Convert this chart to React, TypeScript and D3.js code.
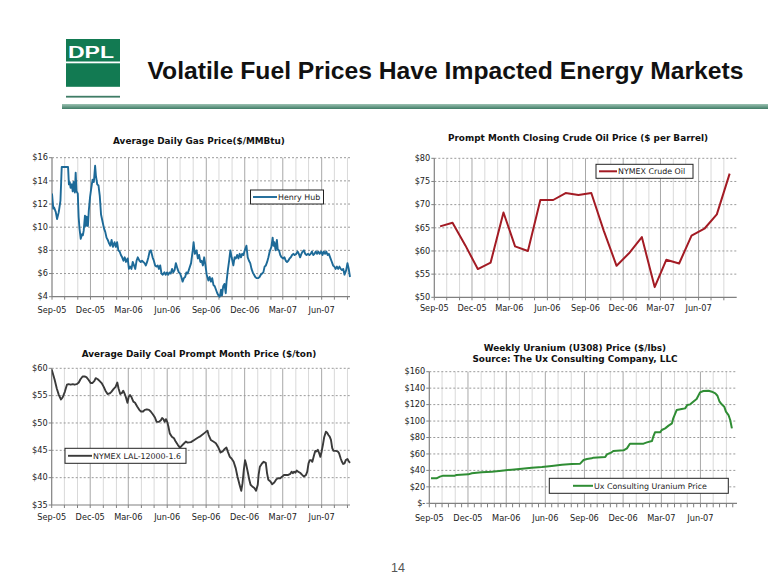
import React from 'react';
import * as d3 from 'd3';

const START = new Date(2005, 8, 1);

// Henry Hub daily gas price: [days since Sep 1 2005, $/MMBtu]
const GAS: [number, number][] = [[0,12.9],[3,11.6],[5,11.7],[9,11.3],[12,10.7],[16,11.3],[20,12.3],[23,15.2],[38,15.2],[40,13.7],[42,13.9],[44,13.4],[47,13.7],[49,13.1],[51,13.9],[54,13.0],[56,14.7],[58,13.1],[61,12.9],[63,10.9],[65,9.9],[68,9.0],[71,9.4],[73,9.3],[75,9.7],[78,11.0],[80,10.1],[82,10.9],[85,10.1],[87,11.4],[90,12.6],[93,13.4],[96,14.1],[99,13.9],[102,15.3],[104,14.4],[107,13.7],[110,13.6],[113,12.7],[116,11.1],[120,10.4],[123,9.9],[126,9.6],[129,9.1],[132,8.9],[135,8.6],[138,8.4],[141,8.9],[144,8.3],[148,8.7],[151,8.3],[154,8.7],[157,8.0],[160,7.9],[163,7.6],[166,7.4],[169,7.1],[172,7.4],[175,7.0],[179,7.3],[182,6.4],[185,6.6],[188,6.4],[191,7.0],[194,6.7],[197,6.4],[200,7.1],[203,7.4],[207,7.1],[210,7.0],[213,7.1],[216,7.0],[219,6.9],[222,6.7],[225,7.0],[228,7.4],[231,7.9],[234,8.0],[238,7.4],[241,7.1],[244,6.7],[247,6.6],[250,6.7],[253,6.4],[256,6.7],[259,6.0],[262,5.9],[266,6.1],[269,5.9],[272,6.1],[275,5.9],[278,6.1],[281,6.0],[284,6.4],[287,6.1],[290,6.3],[293,6.9],[297,6.4],[300,6.1],[303,6.0],[306,5.7],[309,5.3],[312,5.6],[315,5.7],[318,6.1],[321,6.0],[329,6.9],[333,8.0],[335,8.7],[338,7.7],[342,8.0],[345,7.3],[348,7.6],[351,7.0],[354,7.1],[357,6.7],[360,7.4],[363,6.7],[366,5.9],[370,5.4],[373,5.7],[376,5.3],[379,5.6],[382,5.0],[385,4.9],[388,4.6],[391,4.3],[394,4.1],[397,4.0],[400,4.6],[402,4.1],[405,4.9],[408,5.1],[411,4.3],[413,5.3],[416,6.3],[419,7.1],[422,8.0],[425,7.4],[429,6.7],[432,7.4],[435,7.3],[438,7.6],[441,7.3],[444,7.7],[447,7.4],[450,7.7],[453,7.6],[456,8.0],[460,8.4],[463,7.4],[466,7.1],[469,6.9],[472,6.4],[475,6.1],[478,5.9],[481,5.7],[484,5.6],[488,5.6],[491,5.7],[494,5.9],[497,6.0],[500,6.1],[503,6.6],[506,6.7],[509,7.0],[512,7.4],[515,7.9],[519,8.3],[522,9.1],[524,8.4],[526,8.7],[529,8.0],[532,8.9],[534,8.1],[537,8.0],[540,7.6],[543,7.4],[547,7.3],[550,7.4],[553,7.1],[556,7.0],[559,7.1],[562,7.3],[565,7.4],[568,7.6],[571,7.7],[574,7.6],[578,7.7],[581,7.9],[584,7.7],[587,7.4],[590,7.7],[593,7.9],[596,8.0],[599,7.7],[602,7.6],[606,7.7],[609,7.6],[612,7.7],[615,7.9],[618,7.6],[621,7.7],[624,7.9],[627,7.7],[630,7.9],[633,7.7],[637,7.9],[640,7.6],[643,7.9],[646,7.7],[649,7.9],[652,7.6],[655,7.7],[658,7.4],[661,7.1],[665,6.7],[668,6.6],[671,6.4],[674,6.6],[677,6.4],[680,6.6],[683,6.4],[686,6.3],[689,6.4],[692,5.9],[696,6.3],[699,6.9],[702,6.4],[705,5.7]];

// NYMEX crude oil monthly close, Sep-05 .. Aug-07
const CRUDE_MONTHS = ['2005-09','2005-10','2005-11','2005-12','2006-01','2006-02','2006-03','2006-04','2006-05','2006-06','2006-07','2006-08','2006-09','2006-10','2006-11','2006-12','2007-01','2007-02','2007-03','2007-04','2007-05','2007-06','2007-07','2007-08'];
const CRUDE_VALUES = [65.3,66.1,61.2,56.1,57.5,68.3,61.0,60.0,71.0,71.0,72.5,72.1,72.5,64.4,56.8,59.5,63.0,52.2,58.1,57.3,63.3,64.8,67.9,76.7];

// Coal NYMEX LAL-12000-1.6: [days since Sep 1 2005, $/ton]
const COAL: [number, number][] = [[0,59.8],[7,57.9],[12,56.3],[17,55.1],[22,54.3],[26,54.7],[31,55.7],[36,57.0],[40,57.1],[45,57.0],[50,57.1],[54,57.0],[59,57.1],[64,57.4],[68,58.0],[73,58.5],[78,58.5],[82,58.4],[87,57.9],[92,57.3],[96,57.3],[101,57.7],[104,58.2],[109,58.0],[113,57.7],[118,57.3],[123,56.6],[127,55.9],[132,55.3],[137,55.4],[141,55.7],[146,56.2],[151,56.6],[155,57.4],[158,56.3],[162,55.3],[166,55.5],[169,55.9],[172,55.4],[175,54.8],[179,53.7],[182,54.8],[185,55.1],[188,54.8],[193,53.9],[197,53.7],[202,53.0],[207,52.4],[211,52.1],[216,52.1],[220,52.4],[225,52.5],[230,52.4],[234,52.1],[239,51.6],[244,51.0],[248,50.2],[253,50.2],[258,50.5],[261,50.9],[264,50.7],[267,50.2],[270,50.7],[273,50.2],[276,49.3],[279,48.1],[284,47.5],[289,47.2],[293,46.6],[298,46.0],[303,45.5],[307,45.8],[312,46.2],[317,46.6],[321,46.4],[329,46.5],[337,46.9],[345,47.3],[352,47.6],[360,48.1],[368,48.6],[371,47.8],[376,46.9],[382,46.6],[388,46.3],[394,45.5],[399,44.6],[404,44.8],[408,45.2],[413,45.5],[416,44.8],[421,43.8],[425,43.5],[430,42.9],[435,41.7],[439,40.2],[444,38.7],[448,37.6],[451,39.0],[454,41.4],[457,43.2],[460,42.3],[464,40.8],[467,39.6],[470,38.7],[474,38.4],[479,38.1],[483,37.6],[487,38.7],[489,40.5],[492,42.0],[497,42.6],[501,42.9],[506,42.7],[509,40.8],[512,39.6],[517,39.3],[521,38.8],[526,39.1],[531,39.7],[535,39.9],[540,39.9],[545,40.2],[549,40.5],[554,40.5],[559,40.5],[564,40.7],[567,41.1],[570,40.8],[573,41.1],[576,40.9],[579,41.3],[582,41.1],[587,40.9],[592,40.5],[596,40.2],[601,40.5],[604,41.1],[607,42.6],[610,43.2],[613,43.2],[616,42.9],[620,44.1],[623,44.9],[626,44.8],[629,45.1],[632,44.5],[635,43.8],[638,44.8],[641,46.0],[644,47.4],[648,48.4],[651,48.2],[654,47.8],[657,47.5],[660,46.9],[663,45.4],[666,44.9],[671,44.9],[676,44.8],[679,44.5],[683,43.5],[686,42.9],[689,42.5],[692,42.6],[695,43.2],[699,43.4],[702,43.0],[705,42.7]];

// Ux weekly uranium price: [days since Sep 1 2005, $/lb]
const URANIUM: [number, number][] = [[4,30.4],[17,30.4],[25,32.4],[33,33.6],[60,33.6],[64,34.4],[92,35.2],[100,36.5],[123,37.7],[147,38.5],[170,39.7],[194,40.9],[218,42.1],[241,43.3],[265,44.1],[288,45.4],[312,47.0],[335,47.8],[355,48.2],[363,52.6],[371,53.9],[382,54.7],[386,55.5],[414,56.3],[418,59.5],[429,62.0],[433,63.6],[457,64.4],[465,66.8],[472,72.5],[504,72.5],[512,74.1],[524,75.7],[527,81.0],[531,86.3],[543,86.3],[547,89.1],[555,91.1],[563,94.4],[571,97.2],[574,103.3],[582,113.4],[594,114.6],[602,115.4],[607,119.5],[614,120.3],[621,123.5],[629,126.8],[637,134.9],[645,136.5],[657,136.9],[665,135.7],[673,133.7],[678,130.8],[683,123.5],[688,120.3],[694,117.5],[698,111.4],[704,107.3],[708,101.3],[712,91.1]];

const GAS_TICKS = [4, 6, 8, 10, 12, 14, 16];
const CRUDE_TICKS = [50, 55, 60, 65, 70, 75, 80];
const COAL_TICKS = [35, 40, 45, 50, 55, 60];
const URANIUM_TICKS = [0, 20, 40, 60, 80, 100, 120, 140, 160];

const FONT = 'DejaVu Sans, Verdana, sans-serif';

type Pt = { date: Date; value: number };

const fromDays = (arr: [number, number][]): Pt[] =>
  arr.map(([d, v]) => ({ date: d3.timeDay.offset(START, d), value: v }));

type ChartSpec = {
  left: number; right: number; top: number; bottom: number;
  xEnd: Date;
  yDomain: [number, number];
  yTicks: number[];
  yFmt: (v: number) => string;
  data: Pt[];
  color: string;
  lw: number;
  titles: { text: string; x: number; y: number }[];
  legend: { x: number; y: number; w: number; h: number; text: string; lineLen: number; lineStart: number };
  labelDy: number;
  halfTicks?: boolean;
  tickLen: number;
};

function Chart({ s, id }: { s: ChartSpec; id: string }) {
  const x = d3.scaleTime().domain([START, s.xEnd]).range([s.left, s.right]);
  const y = d3.scaleLinear().domain(s.yDomain).range([s.bottom, s.top]);
  const months = d3.timeMonth.range(START, s.xEnd);
  const line = d3.line<Pt>().x(d => x(d.date)).y(d => y(d.value));
  const fmt = d3.timeFormat('%b-%y');
  const ticks = s.halfTicks
    ? months.flatMap(m => [m, d3.timeDay.offset(m, 15)]).filter(d => d <= s.xEnd)
    : months;
  return (
    <g>
      <defs>
        <clipPath id={id}>
          <rect x={s.left} y={s.top - 2} width={s.right - s.left + 2} height={s.bottom - s.top + 4} />
        </clipPath>
      </defs>
      {months.map((m, i) => {
        if (i === 0) return null;
        const q = m.getMonth() % 3 === 2;
        return (
          <line key={'v' + i} x1={x(m)} x2={x(m)} y1={s.top} y2={s.bottom}
            stroke={q ? '#a8a8a8' : '#d9d9d9'} strokeWidth={1} />
        );
      })}
      {s.yTicks.map((t, i) => (
        i === 0 ? null :
        <line key={'h' + i} x1={s.left} x2={s.right} y1={y(t)} y2={y(t)}
          stroke="#9a9a9a" strokeWidth={1} strokeDasharray="2,2" />
      ))}
      <line x1={s.left} x2={s.left} y1={s.top} y2={s.bottom} stroke="#808080" strokeWidth={1.2} />
      <line x1={s.left} x2={s.right} y1={s.bottom} y2={s.bottom} stroke="#808080" strokeWidth={1.2} />
      {s.yTicks.map((t, i) => (
        <g key={'yt' + i}>
          <line x1={s.left - 3} x2={s.left} y1={y(t)} y2={y(t)} stroke="#808080" />
          <text x={s.left - 4} y={y(t)} dy="0.33em" textAnchor="end" fontFamily={FONT} fontSize={8.2} fill="#222">
            {s.yFmt(t)}
          </text>
        </g>
      ))}
      {ticks.map((m, i) => (
        <line key={'xt' + i} x1={x(m)} x2={x(m)} y1={s.bottom} y2={s.bottom + s.tickLen} stroke="#808080" />
      ))}
      {months.filter(m => m.getMonth() % 3 === 2).map((m, i) => (
        <text key={'xl' + i} x={x(m)} y={s.bottom + s.labelDy} textAnchor="middle" fontFamily={FONT} fontSize={8.2} fill="#222">
          {fmt(m)}
        </text>
      ))}
      <path d={line(s.data) || ''} fill="none" stroke={s.color} strokeWidth={s.lw} strokeLinejoin="round" clipPath={`url(#${id})`} />
      {s.titles.map((t, i) => (
        <text key={'t' + i} x={t.x} y={t.y} textAnchor="middle" fontFamily={FONT} fontWeight="bold" fontSize={8.9} fill="#111">
          {t.text}
        </text>
      ))}
      <rect x={s.legend.x} y={s.legend.y} width={s.legend.w} height={s.legend.h} fill="#fff" stroke="#222" strokeWidth={1} />
      <line x1={s.legend.lineStart} x2={s.legend.lineStart + s.legend.lineLen}
        y1={s.legend.y + s.legend.h / 2} y2={s.legend.y + s.legend.h / 2} stroke={s.color} strokeWidth={s.lw} />
      <text x={s.legend.lineStart + s.legend.lineLen + 1} y={s.legend.y + s.legend.h / 2} dy="0.35em"
        fontFamily={FONT} fontSize={7.9} fill="#222">{s.legend.text}</text>
    </g>
  );
}

export default function App() {
  const dollar = (v: number) => `$${v}`;
  const gas: ChartSpec = {
    left: 52, right: 350, top: 157.7, bottom: 296.7,
    xEnd: d3.timeDay.offset(START, 705),
    yDomain: [4, 16], yTicks: GAS_TICKS, yFmt: dollar,
    data: fromDays(GAS), color: '#1d6a98', lw: 1.9,
    titles: [{ text: 'Average Daily Gas Price($/MMBtu)', x: 199, y: 144 }],
    legend: { x: 250.5, y: 190, w: 73, h: 14, text: 'Henry Hub', lineLen: 24, lineStart: 253 },
    labelDy: 16, tickLen: 3,
  };
  const crude: ChartSpec = {
    left: 434.3, right: 736.7, top: 158.3, bottom: 297.3,
    xEnd: new Date(2007, 8, 1),
    yDomain: [50, 80], yTicks: CRUDE_TICKS, yFmt: dollar,
    data: CRUDE_MONTHS.map((m, i) => ({ date: d3.timeDay.offset(d3.timeParse('%Y-%m')(m) as Date, 14), value: CRUDE_VALUES[i] })),
    color: '#a31b24', lw: 2,
    titles: [{ text: 'Prompt Month Closing Crude Oil Price ($ per Barrel)', x: 578, y: 141 }],
    legend: { x: 596, y: 164.3, w: 97, h: 14, text: 'NYMEX Crude Oil', lineLen: 18, lineStart: 599 },
    labelDy: 14, tickLen: 3,
  };
  const coal: ChartSpec = {
    left: 51.7, right: 350, top: 368.3, bottom: 505,
    xEnd: d3.timeDay.offset(START, 705),
    yDomain: [35, 60], yTicks: COAL_TICKS, yFmt: dollar,
    data: fromDays(COAL), color: '#3a3a3a', lw: 1.9,
    titles: [{ text: 'Average Daily Coal Prompt Month Price ($/ton)', x: 199, y: 356.5 }],
    legend: { x: 65, y: 448.3, w: 121, h: 15, text: 'NYMEX LAL-12000-1.6', lineLen: 24, lineStart: 68 },
    labelDy: 15, tickLen: 3,
  };
  const uranium: ChartSpec = {
    left: 429.3, right: 737, top: 371.7, bottom: 503.3,
    xEnd: d3.timeDay.offset(START, 724),
    yDomain: [0, 160], yTicks: URANIUM_TICKS, yFmt: (v) => (v === 0 ? '$-' : `$${v}`),
    data: fromDays(URANIUM), color: '#2f8d34', lw: 2,
    titles: [
      { text: 'Weekly Uranium (U308) Price ($/lbs)', x: 575, y: 350.5 },
      { text: 'Source: The Ux Consulting Company, LLC', x: 575, y: 362 },
    ],
    legend: { x: 549.3, y: 478.3, w: 179, h: 15, text: 'Ux Consulting Uranium Price', lineLen: 20, lineStart: 573 },
    labelDy: 18, halfTicks: true, tickLen: 4,
  };

  return (
    <svg width={777} height={587} style={{ position: 'absolute', left: 0, top: 0, background: '#fff' }}>
      <defs>
        <linearGradient id="bar" x1="0" y1="0" x2="0" y2="1">
          <stop offset="0" stopColor="#9cc2b2" />
          <stop offset="1" stopColor="#3f7c66" />
        </linearGradient>
      </defs>
      <rect x={0} y={0} width={777} height={587} fill="#fff" />
      <rect x={66} y={39} width={54} height={22.5} fill="#127a52" />
      <rect x={66} y={63.3} width={54} height={23.5} fill="#127a52" />
      <text x={68} y={57.5} fontFamily="Liberation Sans, Arial, sans-serif" fontWeight="bold" fontSize={16}
        fill="#fff" textLength={46} lengthAdjust="spacingAndGlyphs">DPL</text>
      <rect x={66} y={95.8} width={54} height={1.8} fill="#3f7c66" />
      <rect x={62} y={104} width={706} height={5} fill="url(#bar)" />
      <text x={147.5} y={78.5} fontFamily="Liberation Sans, Arial, sans-serif" fontWeight="bold" fontSize={23.5}
        fill="#111" textLength={596} lengthAdjust="spacingAndGlyphs">Volatile Fuel Prices Have Impacted Energy Markets</text>
      <Chart s={gas} id="c-gas" />
      <Chart s={crude} id="c-crude" />
      <Chart s={coal} id="c-coal" />
      <Chart s={uranium} id="c-uranium" />
      <text x={398} y={571.5} textAnchor="middle" fontFamily="Liberation Sans, Arial, sans-serif" fontSize={12.5} fill="#555">14</text>
    </svg>
  );
}
